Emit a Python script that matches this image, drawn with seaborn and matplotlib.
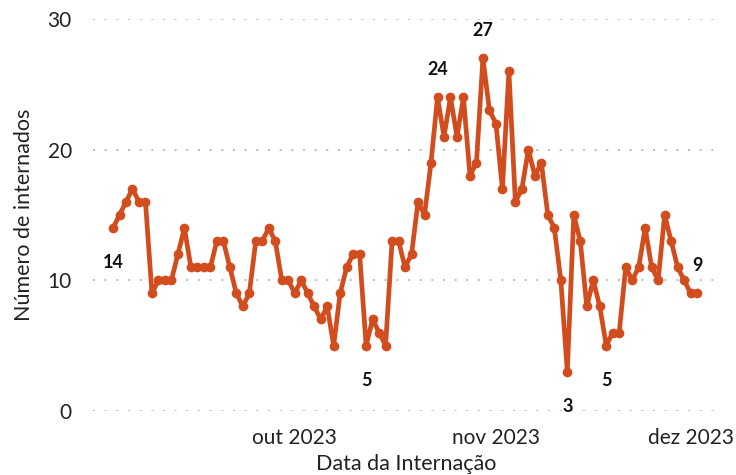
import matplotlib
matplotlib.use("Agg")
import matplotlib.pyplot as plt
import pandas as pd
import numpy as np
import seaborn as sns

# internações diárias, 03/09/2023 a 02/12/2023
inicio = "2023-09-03"
internados = [14, 15, 16, 17, 16, 16, 9, 10, 10, 10,
              12, 14, 11, 11, 11, 11, 13, 13, 11, 9,
              8, 9, 13, 13, 14, 13, 10, 10, 9, 10,
              9, 8, 7, 8, 5, 9, 11, 12, 12, 5,
              7, 6, 5, 13, 13, 11, 12, 16, 15, 19,
              24, 21, 24, 21, 24, 18, 19, 27, 23, 22,
              17, 26, 16, 17, 20, 18, 19, 15, 14, 10,
              3, 15, 13, 8, 10, 8, 5, 6, 6, 11,
              10, 11, 14, 11, 10, 15, 13, 11, 10, 9,
              9]
# pontos com rótulo (índice, acima/abaixo)
rotulos = [(0, "abaixo"), (50, "acima"), (57, "acima"), (39, "abaixo"),
           (70, "abaixo"), (76, "abaixo"), (90, "acima")]
meses_pt = ["jan", "fev", "mar", "abr", "mai", "jun",
            "jul", "ago", "set", "out", "nov", "dez"]

df = pd.DataFrame({
    "Data": pd.date_range(inicio, periods=len(internados), freq="D"),
    "Internados": internados,
})

sns.set_style("white")
plt.rcParams["font.family"] = ["Lato", "DejaVu Sans"]

cor = "#D24D1E"
fig = plt.figure(figsize=(7.36, 4.75), dpi=100)
ax = fig.add_axes([0.126, 0.135, 0.852, 0.825])

sns.lineplot(data=df, x="Data", y="Internados", ax=ax, color=cor,
             linewidth=3.4, marker="o", markersize=7, markeredgewidth=0)

for i, pos in rotulos:
    d = df["Data"].iloc[i]
    v = df["Internados"].iloc[i]
    dy = 20 if pos == "acima" else -25
    ax.annotate(str(v), (d, v), xytext=(0, dy), textcoords="offset points",
                ha="center", va="center", fontsize=13, fontweight="bold",
                color="#111111")

ax.set_ylim(0, 30)
ax.set_yticks([0, 10, 20, 30])
ax.set_xlim(pd.Timestamp("2023-08-30 21:00"), pd.Timestamp("2023-12-05 12:00"))
ticks = pd.to_datetime(["2023-10-01", "2023-11-01", "2023-12-01"])
ax.set_xticks(ticks)
ax.set_xticklabels([f"{meses_pt[t.month - 1]} {t.year}" for t in ticks])

ax.grid(axis="y", color="#BBBBBB", linestyle=(0, (1, 5)), linewidth=1.4)
ax.grid(axis="x", visible=False)
for s in ax.spines.values():
    s.set_visible(False)
ax.tick_params(axis="both", length=0, labelsize=15, colors="#222222")
ax.tick_params(axis="x", pad=12)
ax.tick_params(axis="y", pad=15)

ax.set_xlabel("Data da Internação", fontsize=15.5, color="#222222", labelpad=5)
ax.set_ylabel("Número de internados", fontsize=15.5, color="#222222", labelpad=10)

fig.savefig("out.png", dpi=100)
